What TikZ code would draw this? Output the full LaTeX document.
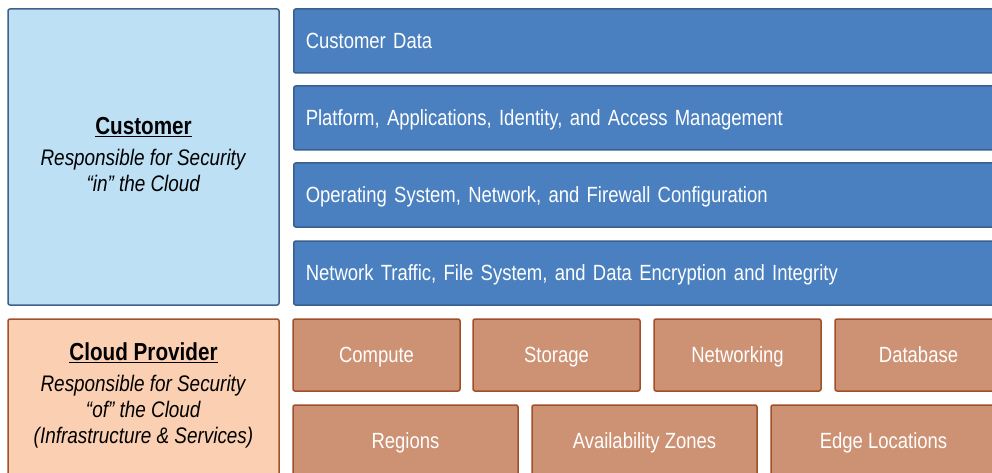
\documentclass[tikz,border=0pt]{standalone}
\usepackage{fontspec}
\setmainfont{Liberation Sans}[FakeStretch=0.84]
\usepackage{tikz}
\definecolor{custfill}{RGB}{189,224,245}
\definecolor{custline}{RGB}{65,96,140}
\definecolor{provfill}{RGB}{251,208,178}
\definecolor{provline}{RGB}{160,82,45}
\definecolor{layerfill}{RGB}{74,128,192}
\definecolor{layerline}{RGB}{58,95,143}
\definecolor{infrafill}{RGB}{205,145,115}
\definecolor{infraline}{RGB}{161,79,40}

\begin{document}
\begin{tikzpicture}[x=1pt,y=-1pt]
\tikzset{party/.style = {shape=rectangle,rounded corners=2pt,line width=1.5pt,align=center,
  font=\fontsize{22.5}{26}\selectfont}}
\tikzset{layer/.style = {shape=rectangle,rounded corners=2pt,line width=1.5pt,draw=layerline,
  fill=layerfill,text=white,anchor=west,text width=696pt,inner xsep=12pt,align=left,
  minimum height=64pt,text height=17pt,text depth=2pt,font=\fontsize{22}{24}\selectfont}}
\tikzset{infra/.style = {shape=rectangle,rounded corners=2pt,line width=1.5pt,draw=infraline,
  fill=infrafill,text=white,minimum height=72pt,text height=17pt,text depth=2pt,
  font=\fontsize{22}{24}\selectfont}}
\clip (0,0) rectangle (992,473);
\fill[white] (0,0) rectangle (992,473);

%responsibility
\node[party,draw=custline,fill=custfill,minimum width=271pt,minimum height=296pt] (cust) at (143.5,157)
  {{\fontsize{24.6}{26}\selectfont\textbf{\underline{Customer}}}\\[5pt]
   \textit{Responsible for Security}\\ \textit{“in” the Cloud}\\[-20pt]};
\node[party,draw=provline,fill=provfill,minimum width=271pt,minimum height=158pt] (prov) at (143.5,398)
  {{\fontsize{24.6}{26}\selectfont\textbf{\underline{Cloud Provider}}}\\[5pt]
   \textit{Responsible for Security}\\ \textit{“of” the Cloud}\\
   \textit{(Infrastructure \& Services)}\\[-16pt]};

%customer layers
\node[layer] (data) at (293,41)  {Customer Data};
\node[layer] (plat) at (293,118) {Platform, Applications, Identity, and Access Management};
\node[layer] (os)   at (293,195) {Operating System, Network, and Firewall Configuration};
\node[layer] (net)  at (293,273) {Network Traffic, File System, and Data Encryption and Integrity};

%provider services
\node[infra,minimum width=167pt] (comp) at (376.5,355) {Compute};
\node[infra,minimum width=167pt] (stor) at (556.5,355) {Storage};
\node[infra,minimum width=167pt] (netw) at (737.5,355) {Networking};
\node[infra,minimum width=167pt] (db)   at (918.5,355) {Database};
\node[infra,minimum width=225pt] (reg)  at (405.5,441) {Regions};
\node[infra,minimum width=225pt] (az)   at (644.5,441) {Availability Zones};
\node[infra,minimum width=225pt] (edge) at (883.5,441) {Edge Locations};
\end{tikzpicture}
\end{document}
